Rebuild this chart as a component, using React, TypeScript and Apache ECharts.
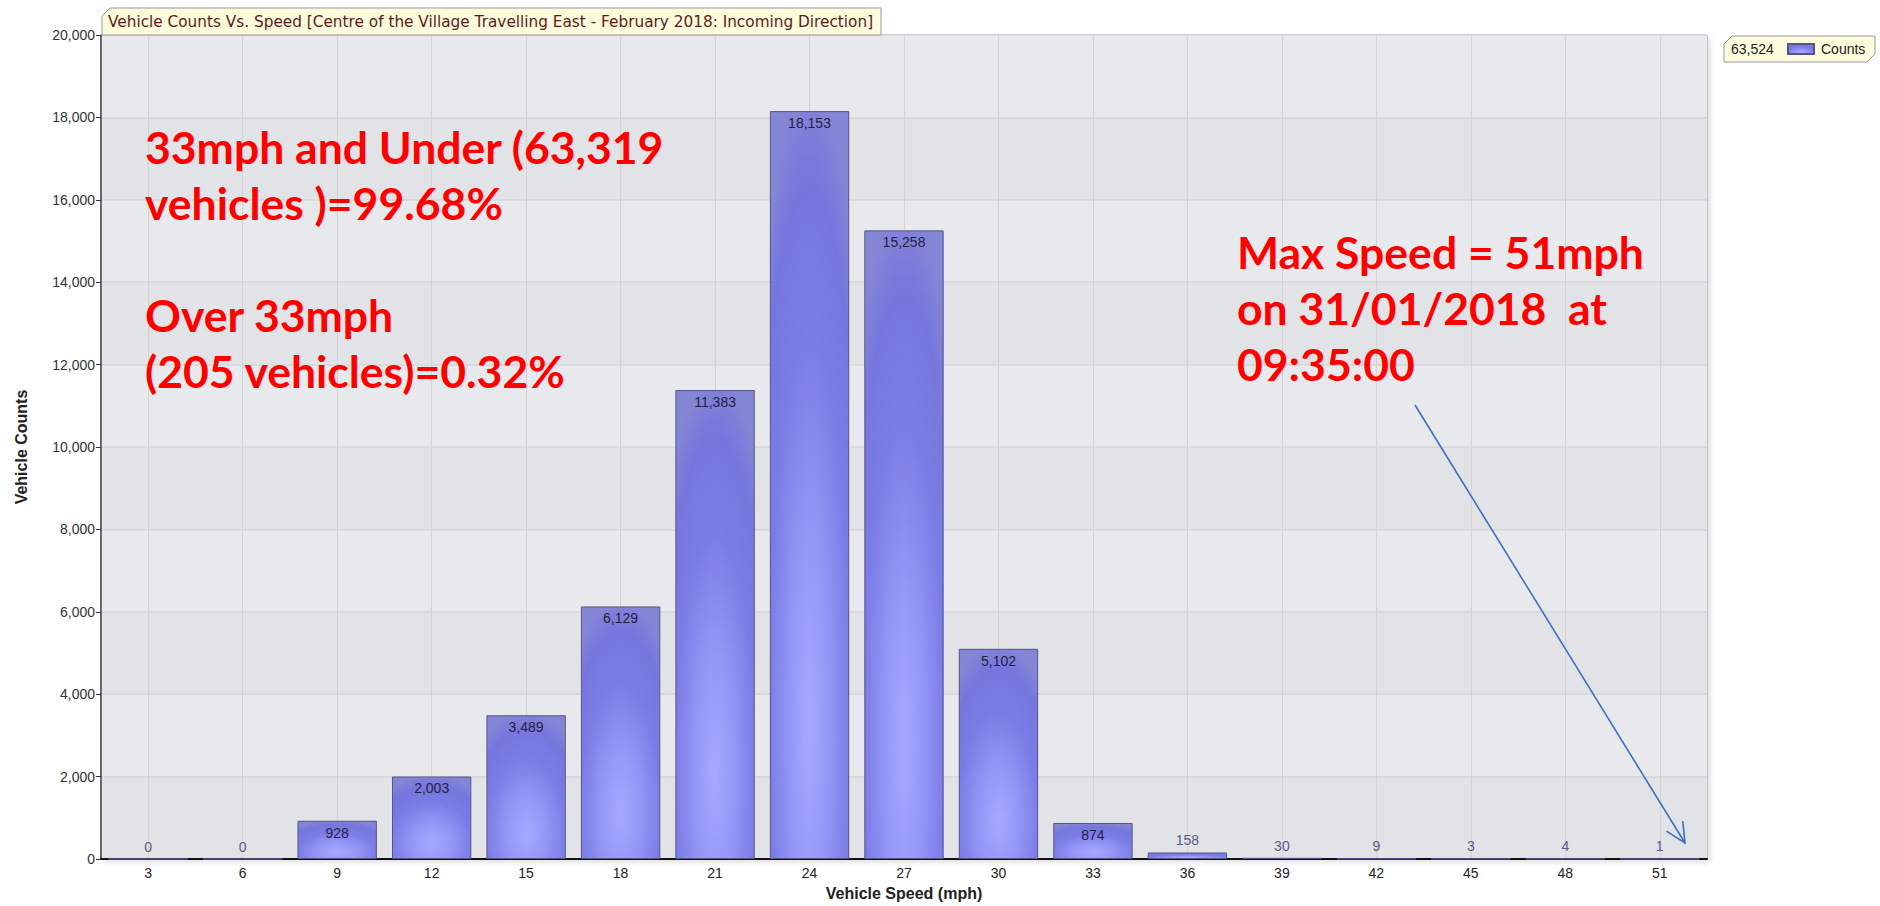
import React, { useEffect, useRef } from "react";
import * as echarts from "echarts";

const speeds = ["3", "6", "9", "12", "15", "18", "21", "24", "27", "30", "33", "36", "39", "42", "45", "48", "51"];
const counts = [0, 0, 928, 2003, 3489, 6129, 11383, 18153, 15258, 5102, 874, 158, 30, 9, 3, 4, 1];
const seriesName = "Counts";
const chartTitle = "Vehicle Counts Vs. Speed [Centre of the Village Travelling East - February 2018: Incoming Direction]";
const leftNotes = ["33mph and Under (63,319", "vehicles )=99.68%", "", "Over 33mph", "(205 vehicles)=0.32%"];
const rightNotes = ["Max Speed = 51mph", "on 31/01/2018  at", "09:35:00"];

const fmt = (v: number) => v.toLocaleString("en-US");

export default function App() {
  const ref = useRef<HTMLDivElement>(null);
  useEffect(() => {
    document.body.style.margin = "0";
    const chart = echarts.init(ref.current!, null, { renderer: "svg" });
    const total = counts.reduce((a, b) => a + b, 0);
    const barFill = {
      type: "radial",
      x: 0.5,
      y: 0.82,
      r: 0.85,
      colorStops: [
        { offset: 0, color: "#a6a8ff" },
        { offset: 0.3, color: "#9496f6" },
        { offset: 0.6, color: "#7c7ce6" },
        { offset: 0.85, color: "#7676de" },
        { offset: 1, color: "#8585d6" },
      ],
    };
    // arrow geometry
    const a0 = [1415, 405];
    const a1 = [1685, 843];
    const dx = a1[0] - a0[0], dy = a1[1] - a0[1];
    const len = Math.hypot(dx, dy);
    const ux = -dx / len, uy = -dy / len;
    const head = (ang: number) => {
      const c = Math.cos(ang), s = Math.sin(ang);
      return [a1[0] + 22 * (ux * c - uy * s), a1[1] + 22 * (ux * s + uy * c)];
    };
    const redStyle = (t: string) => ({
      text: t,
      fill: "#ff0000",
      font: "bold 44.5px Lato",
      textVerticalAlign: "middle",
    });
    chart.setOption({
      animation: false,
      textStyle: { fontFamily: "'Liberation Sans', Arial, sans-serif" },
      grid: {
        left: 101,
        right: 173,
        top: 35,
        bottom: 39,
        show: true,
        backgroundColor: "#e5e7ea",
        borderColor: "#9a9a9a",
        borderWidth: 1,
        shadowColor: "rgba(0,0,0,0.12)",
        shadowBlur: 5,
        shadowOffsetX: 3,
        shadowOffsetY: 3,
      },
      legend: {
        show: true,
        left: 1787,
        top: 42,
        itemWidth: 26,
        itemHeight: 10,
        itemGap: 6,
        icon: "rect",
        padding: 0,
        textStyle: { fontSize: 14, color: "#222", padding: [0, 0, 0, 2] },
        data: [seriesName],
      },
      xAxis: {
        type: "category",
        data: speeds,
        name: "Vehicle Speed (mph)",
        nameLocation: "middle",
        nameGap: 26,
        nameTextStyle: { fontWeight: "bold", fontSize: 16, color: "#222" },
        axisLine: { lineStyle: { color: "#111", width: 2 } },
        axisTick: { alignWithLabel: true, length: 5, lineStyle: { color: "#222" } },
        axisLabel: { fontSize: 14, color: "#222", margin: 7 },
        splitLine: { show: true, alignWithLabel: true, lineStyle: { color: "#d3d3d3" } },
      },
      yAxis: {
        type: "value",
        min: 0,
        max: 20000,
        interval: 2000,
        name: "Vehicle Counts",
        nameLocation: "middle",
        nameGap: 72,
        nameTextStyle: { fontWeight: "bold", fontSize: 16, color: "#222" },
        axisLine: { show: true, lineStyle: { color: "#444", width: 1.5 } },
        axisTick: { show: true, length: 5, lineStyle: { color: "#333" } },
        axisLabel: { fontSize: 14, color: "#333", margin: 6, formatter: (v: number) => fmt(v) },
        splitLine: { show: true, lineStyle: { color: "#d6d6d6", width: 1.5 } },
        splitArea: { show: true, areaStyle: { color: ["#e2e3e6", "#e7e9ec"] } },
      },
      series: [
        {
          name: seriesName,
          type: "bar",
          barCategoryGap: "16%",
          itemStyle: { color: barFill, borderColor: "#55558a", borderWidth: 1 },
          data: counts.map((v) => ({
            value: v,
            label:
              v >= 500
                ? { position: "insideTop", distance: 5, color: "#23233f" }
                : { position: "top", distance: 5, color: "#5a5a88" },
          })),
          label: {
            show: true,
            fontSize: 14,
            formatter: (p: any) => fmt(p.value),
          },
        },
      ],
      graphic: [
        {
          type: "polygon",
          shape: { points: [[110, 8], [881, 8], [881, 35], [102, 35], [102, 16]] },
          style: { fill: "#fdfcdc", stroke: "#9a9a9a", lineWidth: 1 },
          z: 10,
        },
        {
          type: "text",
          x: 108,
          y: 22,
          z: 11,
          style: { text: chartTitle, fill: "#5e1b1b", font: "15.3px 'DejaVu Sans'", textVerticalAlign: "middle" },
        },
        {
          type: "polygon",
          shape: { points: [[1732, 36], [1875, 36], [1875, 54], [1867, 62], [1724, 62], [1724, 44]] },
          style: { fill: "#fdfcdc", stroke: "#9a9a9a", lineWidth: 1 },
          z: 0,
        },
        {
          type: "text",
          x: 1731,
          y: 49,
          z: 11,
          style: { text: fmt(total), fill: "#222", font: "14px 'Liberation Sans'", textVerticalAlign: "middle" },
        },
        ...leftNotes.map((t, i) => ({
          type: "text",
          x: 145,
          y: 146 + i * 56,
          z: 20,
          style: redStyle(t),
        })),
        ...rightNotes.map((t, i) => ({
          type: "text",
          x: 1237,
          y: 251 + i * 56,
          z: 20,
          style: redStyle(t),
        })),
        {
          type: "line",
          z: 20,
          shape: { x1: a0[0], y1: a0[1], x2: a1[0], y2: a1[1] },
          style: { stroke: "#3f6fbf", lineWidth: 1.6 },
        },
        {
          type: "polyline",
          z: 20,
          shape: { points: [head(0.45), a1, head(-0.45)] },
          style: { stroke: "#3f6fbf", lineWidth: 1.6, fill: null },
        },
      ],
    });
    return () => chart.dispose();
  }, []);
  return <div ref={ref} style={{ width: 1880, height: 906 }} />;
}
